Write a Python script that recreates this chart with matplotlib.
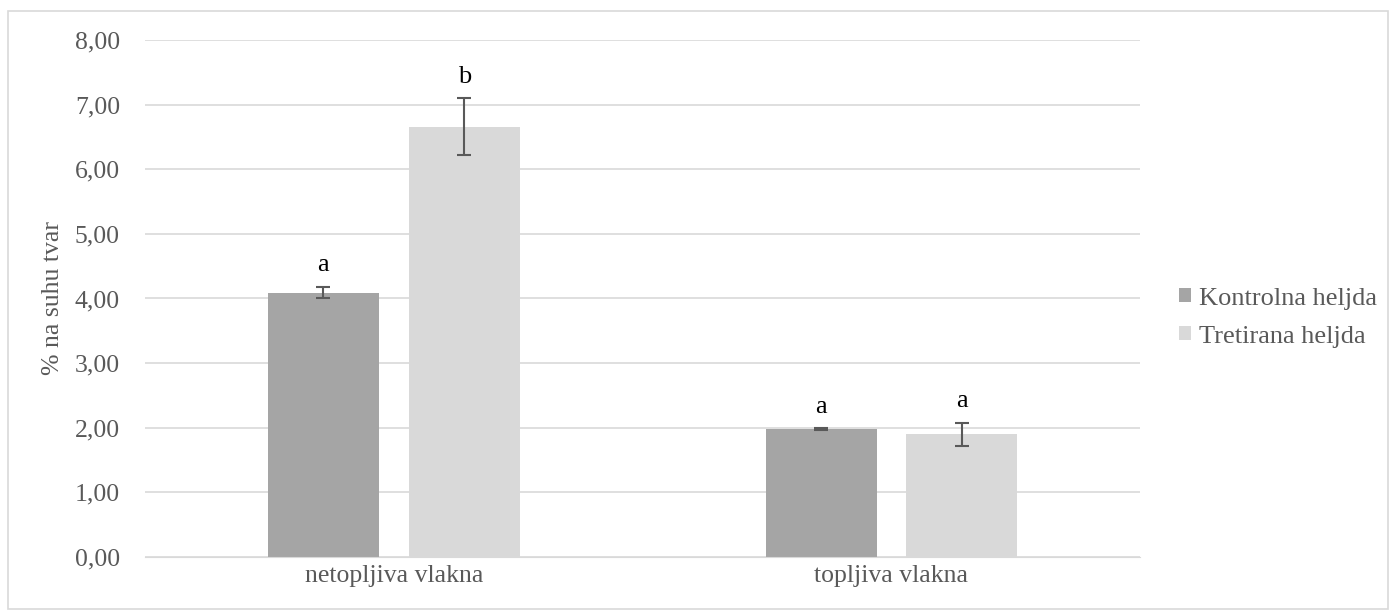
import numpy as np
import matplotlib.pyplot as plt
from matplotlib.patches import Rectangle

categories = ["netopljiva vlakna", "topljiva vlakna"]
series = ["Kontrolna heljda", "Tretirana heljda"]
kontrolna = [4.09, 1.98]
kontrolna_err = [0.09, 0.01]
tretirana = [6.66, 1.90]
tretirana_err = [0.44, 0.18]
letters_k = ["a", "a"]
letters_t = ["b", "a"]

plt.rcParams['font.family'] = ['Liberation Serif', 'DejaVu Serif']

fig = plt.figure(figsize=(13.94, 6.11), dpi=100)
ax = fig.add_axes([0.104, 0.0884, 0.714, 0.8462])
fig.patches.append(Rectangle((0.006, 0.004), 0.99, 0.978, transform=fig.transFigure,
                             fill=False, edgecolor="#d9d9d9", lw=1.2))

x = np.arange(len(categories))
w = 0.223; off = w/2 + 0.03
ecol = "#595959"
b1 = ax.bar(x - off, kontrolna, w, color="#a5a5a5", label=series[0], zorder=2)
b2 = ax.bar(x + off, tretirana, w, color="#d9d9d9", label=series[1], zorder=2)
ax.errorbar(x - off, kontrolna, yerr=kontrolna_err, fmt="none", ecolor=ecol, elinewidth=1.5,
            capsize=5, capthick=1.5, zorder=3)
ax.errorbar(x + off, tretirana, yerr=tretirana_err, fmt="none", ecolor=ecol, elinewidth=1.5,
            capsize=5, capthick=1.5, zorder=3)

for xi, v, e, t in zip(x - off, kontrolna, kontrolna_err, letters_k):
    ax.text(xi, v + e + 0.16, t, ha="center", va="bottom", fontsize=19, color="black")
for xi, v, e, t in zip(x + off, tretirana, tretirana_err, letters_t):
    ax.text(xi, v + e + 0.16, t, ha="center", va="bottom", fontsize=19, color="black")

ax.set_xlim(-0.5, 1.5)
ax.set_ylim(0, 8)
ax.set_yticks(np.arange(0, 9, 1))
ax.set_yticklabels([f"{v:.2f}".replace(".", ",") for v in np.arange(0, 9, 1)])
ax.set_xticks(x)
ax.set_xticklabels(categories)
ax.tick_params(axis="both", length=0, labelsize=18.5, labelcolor="#595959")
ax.tick_params(axis="y", pad=18)
ax.tick_params(axis="x", pad=6)
ax.grid(axis="y", color="#d9d9d9", lw=1.2, zorder=0)
ax.set_axisbelow(True)
for s in ["top", "right", "left"]:
    ax.spines[s].set_visible(False)
ax.spines["bottom"].set_color("#d9d9d9")
ax.set_ylabel("% na suhu tvar", fontsize=18.5, color="#595959", labelpad=8)

leg = fig.legend(handles=[b1, b2], labels=series, loc="center left", bbox_to_anchor=(0.829, 0.48),
                 frameon=False, fontsize=19, handlelength=0.45, handleheight=0.45, handletextpad=0.3,
                 labelspacing=0.6, labelcolor="#595959")

fig.savefig("out.png", dpi=100)
